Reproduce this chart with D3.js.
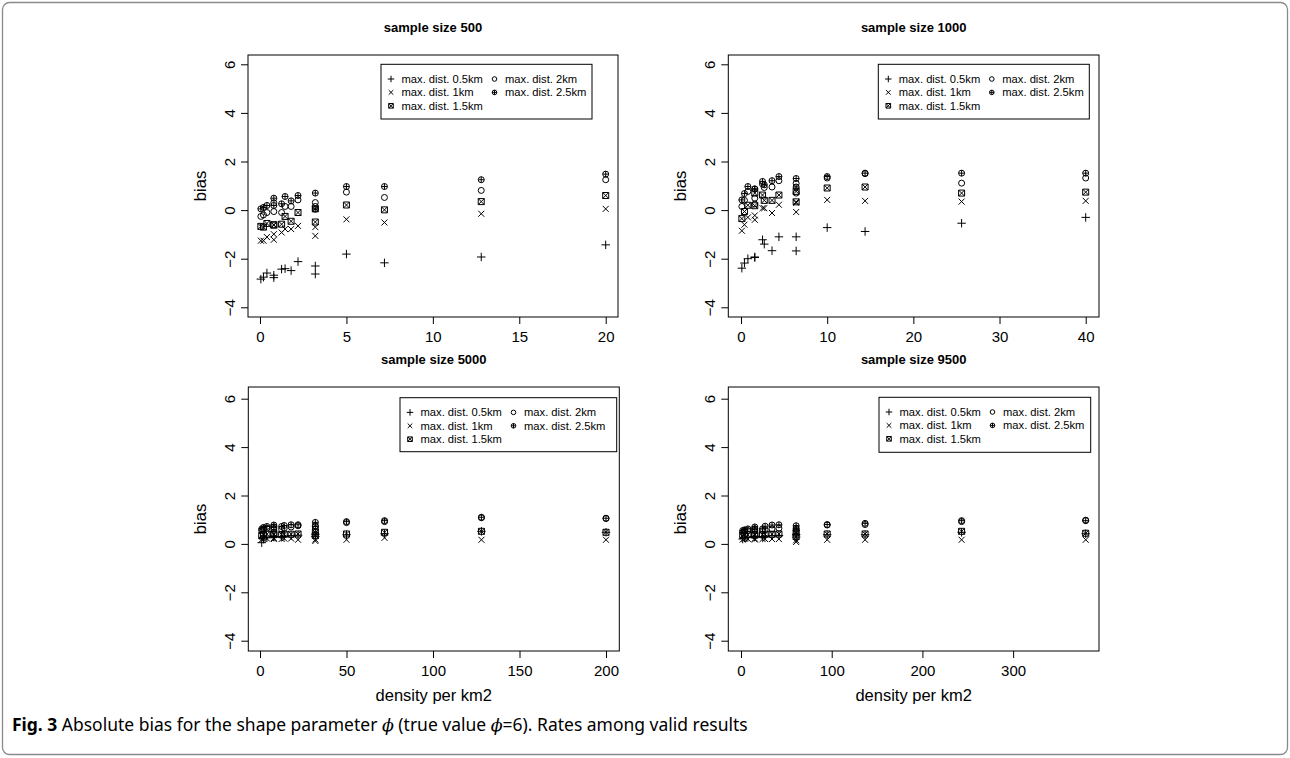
<!DOCTYPE html>
<html>
<head>
  <script src="https://d3js.org/d3.v7.min.js"></script>
  <style>
    body { margin: 0; background: #fff; }
    svg { display: block; }
    .axis text { font-family: "Liberation Sans", Arial, sans-serif; font-size: 15px; fill: #000; }
    .axis line, .axis path { stroke: #000; stroke-width: 1; }
    .ttl { font-family: "Liberation Sans", Arial, sans-serif; font-size: 13px; font-weight: bold; }
    .lab { font-family: "Liberation Sans", Arial, sans-serif; font-size: 16.5px; }
    .leg { font-family: "Liberation Sans", Arial, sans-serif; font-size: 11.2px; }
    .sym { fill: none; stroke: #000; stroke-width: 1; }
  </style>
</head>
<body>
<div id="fig"></div>
<script>
  var w = 1290;
  var h = 758;

  // legend entries, in R's column-major order
  var seriesNames = ["max. dist. 0.5km", "max. dist. 1km", "max. dist. 1.5km", "max. dist. 2km", "max. dist. 2.5km"];
  var seriesSym = ["plus", "cross", "sqx", "circle", "circplus"];
  var yTicks = [-4, -2, 0, 2, 4, 6];

  // sample size 500
  var dens500 = [0.05, 0.2, 0.4, 0.8, 0.8, 1.25, 1.45, 1.8, 2.2, 3.2, 3.2, 5, 7.2, 12.8, 20];
  var bias500_05 = [-2.84, -2.76, -2.59, -2.68, -2.78, -2.43, -2.41, -2.49, -2.12, -2.30, -2.63, -1.81, -2.17, -1.93, -1.43];
  var bias500_1 = [-1.26, -1.26, -1.11, -0.99, -1.22, -0.92, -0.78, -0.78, -0.65, -0.70, -1.06, -0.38, -0.51, -0.15, 0.05];
  var bias500_15 = [-0.67, -0.70, -0.55, -0.62, -0.60, -0.58, -0.26, -0.46, -0.10, 0.05, -0.49, 0.21, 0.01, 0.35, 0.60];
  var bias500_2 = [-0.26, -0.20, -0.10, -0.06, 0.30, -0.10, 0.15, 0.15, 0.42, 0.31, 0.15, 0.74, 0.52, 0.81, 1.25];
  var bias500_25 = [0.05, 0.11, 0.19, 0.19, 0.49, 0.26, 0.56, 0.38, 0.60, 0.70, 0.04, 0.97, 0.97, 1.25, 1.48];

  // sample size 1000
  var dens1000 = [0.1, 0.4, 0.8, 1.6, 1.6, 2.5, 2.7, 3.6, 4.4, 6.4, 6.4, 10, 14.4, 25.6, 40];
  var bias1000_05 = [-2.39, -2.18, -2.00, -1.93, -1.95, -1.22, -1.40, -1.67, -1.10, -1.10, -1.68, -0.72, -0.88, -0.54, -0.30];
  var bias1000_1 = [-0.85, -0.60, -0.30, -0.40, -0.22, 0.08, 0.08, -0.12, 0.22, 0.30, -0.08, 0.42, 0.38, 0.35, 0.38];
  var bias1000_15 = [-0.35, -0.06, 0.20, 0.18, 0.70, 0.62, 0.40, 0.40, 0.62, 0.77, 0.34, 0.91, 0.95, 0.70, 0.74];
  var bias1000_2 = [0.15, 0.40, 0.77, 0.49, 0.25, 1.07, 0.93, 0.95, 1.21, 1.10, 0.70, 1.32, 1.50, 1.11, 1.32];
  var bias1000_25 = [0.42, 0.68, 0.97, 0.87, 0.87, 1.18, 1.04, 1.21, 1.38, 1.30, 0.95, 1.38, 1.52, 1.52, 1.52];

  // sample size 5000
  var dens5000 = [1, 2, 4, 8, 8, 12.5, 14, 18, 22, 32, 32, 50, 72, 128, 200];
  var bias5000_05 = [0.05, 0.20, 0.25, 0.30, 0.28, 0.30, 0.32, 0.34, 0.36, 0.40, 0.30, 0.38, 0.42, 0.52, 0.48];
  var bias5000_1 = [0.18, 0.20, 0.22, 0.24, 0.20, 0.20, 0.22, 0.22, 0.17, 0.18, 0.12, 0.17, 0.25, 0.17, 0.17];
  var bias5000_15 = [0.34, 0.38, 0.40, 0.42, 0.38, 0.38, 0.40, 0.40, 0.41, 0.48, 0.35, 0.41, 0.48, 0.52, 0.48];
  var bias5000_2 = [0.55, 0.60, 0.65, 0.70, 0.62, 0.60, 0.65, 0.70, 0.75, 0.75, 0.62, 0.88, 0.92, 1.08, 1.05];
  var bias5000_25 = [0.62, 0.68, 0.72, 0.78, 0.70, 0.72, 0.76, 0.79, 0.79, 0.89, 0.72, 0.92, 0.96, 1.10, 1.06];

  // sample size 9500
  var dens9500 = [1.9, 3.8, 7.6, 15.2, 15.2, 23.75, 26.6, 34.2, 41.8, 60.8, 60.8, 95, 136.8, 243.2, 380];
  var bias9500_05 = [0.20, 0.25, 0.28, 0.30, 0.28, 0.30, 0.32, 0.34, 0.35, 0.38, 0.28, 0.38, 0.38, 0.48, 0.42];
  var bias9500_1 = [0.18, 0.20, 0.20, 0.22, 0.18, 0.20, 0.20, 0.20, 0.20, 0.15, 0.08, 0.17, 0.17, 0.17, 0.17];
  var bias9500_15 = [0.35, 0.38, 0.38, 0.40, 0.36, 0.38, 0.40, 0.40, 0.41, 0.45, 0.30, 0.41, 0.41, 0.52, 0.44];
  var bias9500_2 = [0.48, 0.52, 0.55, 0.62, 0.55, 0.55, 0.58, 0.62, 0.65, 0.65, 0.55, 0.78, 0.80, 0.92, 0.98];
  var bias9500_25 = [0.55, 0.58, 0.62, 0.70, 0.62, 0.62, 0.73, 0.78, 0.79, 0.75, 0.60, 0.80, 0.85, 0.96, 0.96];

  var xTicks500 = [0, 5, 10, 15, 20];
  var xTicks1000 = [0, 10, 20, 30, 40];
  var xTicks5000 = [0, 50, 100, 150, 200];
  var xTicks9500 = [0, 100, 200, 300];

  // layout of the four panels (pixels)
  var panels = [
    { title: "sample size 500", dens: dens500, xMax: 20, xTicks: xTicks500,
      series: [bias500_05, bias500_1, bias500_15, bias500_2, bias500_25],
      box: [248, 55, 618, 317], xr: [260, 605.7], yr: [307.3, 64.3], legend: [381, 64.3, 211, 54.7], xlab: false },
    { title: "sample size 1000", dens: dens1000, xMax: 40, xTicks: xTicks1000,
      series: [bias1000_05, bias1000_1, bias1000_15, bias1000_2, bias1000_25],
      box: [728.3, 55, 1099, 317], xr: [741, 1085.7], yr: [307.3, 64.3], legend: [878.3, 64.3, 211, 54.7], xlab: false },
    { title: "sample size 5000", dens: dens5000, xMax: 200, xTicks: xTicks5000,
      series: [bias5000_05, bias5000_1, bias5000_15, bias5000_2, bias5000_25],
      box: [248.3, 387, 619.3, 651], xr: [260, 606], yr: [640.7, 398.7], legend: [400, 397.7, 216.7, 54], xlab: true },
    { title: "sample size 9500", dens: dens9500, xMax: 380, xTicks: xTicks9500,
      series: [bias9500_05, bias9500_1, bias9500_15, bias9500_2, bias9500_25],
      box: [728.3, 387, 1099, 651], xr: [741, 1085.7], yr: [640.7, 398.7], legend: [879, 397.3, 211.7, 55], xlab: true }
  ];

  // R style plotting symbols (pch 3, 4, 7, 1, 10)
  function symPath(type, cx, cy, r) {
    var p = d3.path();
    var a = Math.SQRT2 * r;
    if (type == "plus") {
      p.moveTo(cx - a, cy); p.lineTo(cx + a, cy);
      p.moveTo(cx, cy - a); p.lineTo(cx, cy + a);
    } else if (type == "cross") {
      p.moveTo(cx - r, cy - r); p.lineTo(cx + r, cy + r);
      p.moveTo(cx - r, cy + r); p.lineTo(cx + r, cy - r);
    } else if (type == "sqx") {
      p.rect(cx - r, cy - r, 2 * r, 2 * r);
      p.moveTo(cx - r, cy - r); p.lineTo(cx + r, cy + r);
      p.moveTo(cx - r, cy + r); p.lineTo(cx + r, cy - r);
    } else if (type == "circle") {
      p.moveTo(cx + r, cy); p.arc(cx, cy, r, 0, 2 * Math.PI);
    } else {
      p.moveTo(cx + r, cy); p.arc(cx, cy, r, 0, 2 * Math.PI);
      p.moveTo(cx - r, cy); p.lineTo(cx + r, cy);
      p.moveTo(cx, cy - r); p.lineTo(cx, cy + r);
    }
    return p.toString();
  }

  var svg = d3.select("#fig").append("svg")
    .attr("width", w)
    .attr("height", h);

  svg.append("rect")
    .attr("x", 2.5).attr("y", 2.5)
    .attr("width", w - 5).attr("height", h - 6)
    .attr("rx", 7)
    .attr("fill", "none")
    .attr("stroke", "#8a8a8a")
    .attr("stroke-width", 1.3);

  panels.forEach(function(pn) {
    var g = svg.append("g");
    var xScale = d3.scaleLinear().domain([0, pn.xMax]).range(pn.xr);
    var yScale = d3.scaleLinear().domain([-4, 6]).range(pn.yr);
    var b = pn.box;

    g.append("g")
      .attr("class", "axis")
      .attr("transform", "translate(0," + b[3] + ")")
      .call(d3.axisBottom(xScale).tickValues(pn.xTicks).tickSize(7).tickSizeOuter(0).tickPadding(7.6))
      .selectAll("text").attr("font-family", null).attr("font-size", null);

    var ya = g.append("g")
      .attr("class", "axis")
      .attr("transform", "translate(" + b[0] + ",0)")
      .call(d3.axisLeft(yScale).tickValues(yTicks).tickSize(7).tickSizeOuter(0)
        .tickFormat(function(d) { return d < 0 ? "\u2212" + Math.abs(d) : d; }));
    ya.selectAll("text")
      .attr("x", null).attr("dy", null)
      .attr("font-family", null).attr("font-size", null)
      .attr("transform", "translate(-13,0) rotate(-90)")
      .style("text-anchor", "middle");
    g.selectAll(".axis .domain").remove();

    g.append("rect")
      .attr("x", b[0]).attr("y", b[1])
      .attr("width", b[2] - b[0]).attr("height", b[3] - b[1])
      .attr("fill", "none").attr("stroke", "#000").attr("stroke-width", 1);

    g.append("text")
      .attr("class", "ttl")
      .attr("x", (b[0] + b[2]) / 2).attr("y", b[1] - 23.5)
      .attr("text-anchor", "middle")
      .text(pn.title);

    g.append("text")
      .attr("class", "lab")
      .attr("transform", "translate(" + (b[0] - 42) + "," + ((b[1] + b[3]) / 2) + ") rotate(-90)")
      .attr("text-anchor", "middle")
      .text("bias");

    if (pn.xlab) {
      g.append("text")
        .attr("class", "lab")
        .attr("x", (b[0] + b[2]) / 2).attr("y", b[3] + 49.5)
        .attr("text-anchor", "middle")
        .text("density per km2");
    }

    // points
    pn.series.forEach(function(vals, si) {
      g.selectAll(".pt" + si).data(vals).enter().append("path")
        .attr("class", "sym pt" + si)
        .attr("d", function(d, i) { return symPath(seriesSym[si], xScale(pn.dens[i]), yScale(d), 3); });
    });

    // legend, two columns
    var lg = pn.legend;
    g.append("rect")
      .attr("x", lg[0]).attr("y", lg[1])
      .attr("width", lg[2]).attr("height", lg[3])
      .attr("fill", "#fff").attr("stroke", "#000").attr("stroke-width", 1);
    seriesNames.forEach(function(name, i) {
      var col = i < 3 ? 0 : 1;
      var row = i < 3 ? i : i - 3;
      var sx = lg[0] + 10 + col * 103.5;
      var sy = lg[1] + 14.7 + row * 13.4;
      g.append("path").attr("class", "sym").attr("d", symPath(seriesSym[i], sx, sy, 2.3));
      g.append("text")
        .attr("class", "leg")
        .attr("x", sx + 10.5).attr("y", sy + 4)
        .text(name);
    });
  });

  // caption
  var cap = svg.append("text")
    .attr("x", 12).attr("y", 731)
    .style("font-family", "'Noto Sans', 'Open Sans', sans-serif")
    .style("font-size", "14.5px");
  cap.append("tspan").style("font-weight", "bold").text("Fig. 3");
  cap.append("tspan").text(" Absolute bias for the shape parameter ");
  cap.append("tspan").style("font-style", "italic").style("font-family", "'DejaVu Serif', serif").text("\u03D5");
  cap.append("tspan").text(" (true value ");
  cap.append("tspan").style("font-style", "italic").style("font-family", "'DejaVu Serif', serif").text("\u03D5");
  cap.append("tspan").text("=6). Rates among valid results");
  var cw = cap.node().getComputedTextLength();
  cap.style("font-size", (14.5 * 736 / cw) + "px");
</script>
</body>
</html>
